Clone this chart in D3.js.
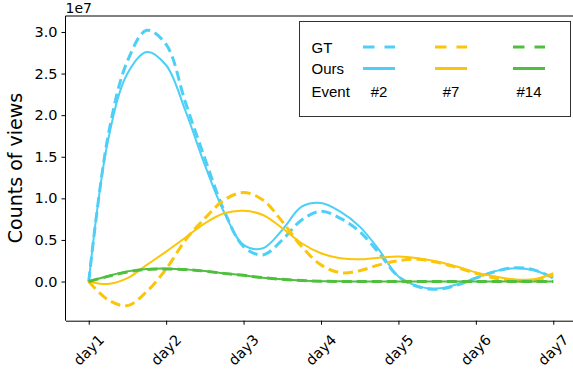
<!DOCTYPE html>
<html>
<head>
<meta charset="utf-8">
<script src="https://cdn.jsdelivr.net/npm/d3@7"></script>
<style>
  html, body { margin: 0; padding: 0; background: #fff; }
  svg { display: block; }
</style>
</head>
<body>
<svg id="chart" width="573" height="376"></svg>
<script>
// Tick labels on the x axis
const days = ["day1", "day2", "day3", "day4", "day5", "day6", "day7"];

// Sample positions (in days after day1), every quarter day
const samplePos = [0, 0.25, 0.5, 0.75, 1, 1.25, 1.5, 1.75, 2, 2.25, 2.5, 2.75, 3,
                   3.25, 3.5, 3.75, 4, 4.25, 4.5, 4.75, 5, 5.25, 5.5, 5.75, 6];

// Counts of views, in millions (axis shows them as x1e7)
const gt2   = [0, 17.5, 26.5, 30.2, 28.5, 21.5, 14.8, 8.5, 4.2, 3.2, 5.0, 7.4, 8.45,
               7.6, 6.0, 3.4, 0.6, -0.6, -0.94, -0.45, 0.4, 1.2, 1.66, 1.4, 0.4];
const ours2 = [0, 17.0, 25.0, 27.6, 26.0, 20.5, 14.0, 8.3, 4.4, 4.0, 6.2, 9.0, 9.45,
               8.4, 6.6, 3.8, 0.6, -0.55, -0.85, -0.35, 0.45, 1.25, 1.6, 1.35, 0.45];
const gt7   = [0, -2.2, -2.9, -1.2, 1.5, 5.0, 7.6, 9.8, 10.7, 9.8, 7.2, 4.2, 2.0,
               1.06, 1.3, 2.0, 2.5, 2.67, 2.3, 1.7, 1.0, 0.4, 0.06, 0.1, 0.8];
const ours7 = [0, -0.3, 0.4, 2.0, 3.6, 5.3, 7.0, 8.2, 8.5, 8.0, 6.4, 4.6, 3.4,
               2.8, 2.67, 2.86, 3.0, 2.8, 2.4, 1.8, 1.1, 0.6, 0.26, 0.26, 1.0];
const gt14  = [0, 0.62, 1.15, 1.45, 1.52, 1.44, 1.25, 0.98, 0.74, 0.46, 0.26, 0.12, 0.04,
               0.0, 0.0, 0.0, 0.0, 0.0, 0.0, 0.0, 0.0, 0.0, 0.0, 0.0, 0.0];
const ours14 = [0, 0.66, 1.22, 1.5, 1.55, 1.46, 1.26, 0.98, 0.74, 0.46, 0.26, 0.12, 0.04,
               0.02, 0.0, 0.0, 0.0, 0.0, 0.0, 0.0, 0.0, 0.0, 0.0, 0.0, 0.0];

const events = ["#2", "#7", "#14"];
const colors = ["#4dcff7", "#fbc60a", "#50bf40"];
const seriesGT = [gt2, gt7, gt14];
const seriesOurs = [ours2, ours7, ours14];
const yTicks = [0, 5, 10, 15, 20, 25, 30];

const svg = d3.select("#chart");
const tickFont = "DejaVu Sans, sans-serif";

const x = d3.scaleLinear().domain([-0.3, 6.3]).range([65.5, 576.5]);
const y = d3.scaleLinear().domain([-4.71, 31.92]).range([320.7, 16]);

// Curves
const line = d3.line()
  .x((d, i) => x(samplePos[i]))
  .y(d => y(d))
  .curve(d3.curveCatmullRom.alpha(0.5));

const plot = svg.append("g");
events.forEach((ev, k) => {
  plot.append("path")
    .attr("d", line(seriesOurs[k]))
    .attr("fill", "none")
    .attr("stroke", colors[k])
    .attr("stroke-width", 2);
  plot.append("path")
    .attr("d", line(seriesGT[k]))
    .attr("fill", "none")
    .attr("stroke", colors[k])
    .attr("stroke-width", 3)
    .attr("stroke-dasharray", "10,5");
});

// Spines (right spine is outside the picture)
svg.append("line").attr("x1", 65.5).attr("x2", 65.5).attr("y1", 16).attr("y2", 320.7)
  .attr("stroke", "#000").attr("stroke-width", 1);
svg.append("line").attr("x1", 65.5).attr("x2", 576.5).attr("y1", 16).attr("y2", 16)
  .attr("stroke", "#000").attr("stroke-width", 1);

// Axes
const xAxis = svg.append("g")
  .attr("transform", "translate(0,320.7)")
  .call(d3.axisBottom(x).tickValues(d3.range(days.length))
    .tickSizeInner(4).tickSizeOuter(0).tickFormat(""));
xAxis.select(".domain").attr("stroke", "#000");
xAxis.selectAll(".tick line").attr("stroke", "#000");

svg.append("g").selectAll("text")
  .data(days)
  .join("text")
  .attr("transform", (d, i) => `translate(${x(i)},350) rotate(-45)`)
  .attr("text-anchor", "middle")
  .attr("dominant-baseline", "central")
  .attr("font-family", tickFont)
  .attr("font-size", 14.5)
  .attr("fill", "#000")
  .text(d => d);

const yAxis = svg.append("g")
  .attr("transform", "translate(65.5,0)")
  .call(d3.axisLeft(y).tickValues(yTicks).tickSizeInner(4).tickSizeOuter(0).tickPadding(4)
    .tickFormat(d => (d / 10).toFixed(1)));
yAxis.select(".domain").remove();
yAxis.selectAll(".tick line").attr("stroke", "#000");
yAxis.selectAll(".tick text")
  .attr("font-family", tickFont)
  .attr("font-size", 14.5)
  .attr("fill", "#000");

// Offset text
svg.append("text")
  .attr("x", 65.5).attr("y", 13)
  .attr("font-family", tickFont)
  .attr("font-size", 14)
  .text("1e7");

// Y label
svg.append("text")
  .attr("transform", "translate(22,168) rotate(-90)")
  .attr("text-anchor", "middle")
  .attr("font-family", tickFont)
  .attr("font-size", 19)
  .text("Counts of views");

// Legend
const legend = svg.append("g").attr("font-family", "Liberation Sans, Arial, sans-serif")
  .attr("font-size", 15);
legend.append("rect")
  .attr("x", 299.5).attr("y", 21.5).attr("width", 271).attr("height", 95)
  .attr("fill", "#fff").attr("stroke", "#333").attr("stroke-width", 1);

const rowNames = ["GT", "Ours", "Event"];
const rowY = [47, 68.5, 91.5];
legend.selectAll("text.row")
  .data(rowNames)
  .join("text")
  .attr("class", "row")
  .attr("x", 311.5)
  .attr("y", (d, i) => rowY[i])
  .attr("dominant-baseline", "central")
  .text(d => d);

const colX = [379, 451, 529];
events.forEach((ev, k) => {
  legend.append("line")
    .attr("x1", colX[k] - 16).attr("x2", colX[k] + 16)
    .attr("y1", rowY[0]).attr("y2", rowY[0])
    .attr("stroke", colors[k]).attr("stroke-width", 3)
    .attr("stroke-dasharray", "11.5,10");
  legend.append("line")
    .attr("x1", colX[k] - 16).attr("x2", colX[k] + 16)
    .attr("y1", rowY[1]).attr("y2", rowY[1])
    .attr("stroke", colors[k]).attr("stroke-width", 3);
  legend.append("text")
    .attr("x", colX[k]).attr("y", rowY[2])
    .attr("text-anchor", "middle")
    .attr("dominant-baseline", "central")
    .text(ev);
});
</script>
</body>
</html>
